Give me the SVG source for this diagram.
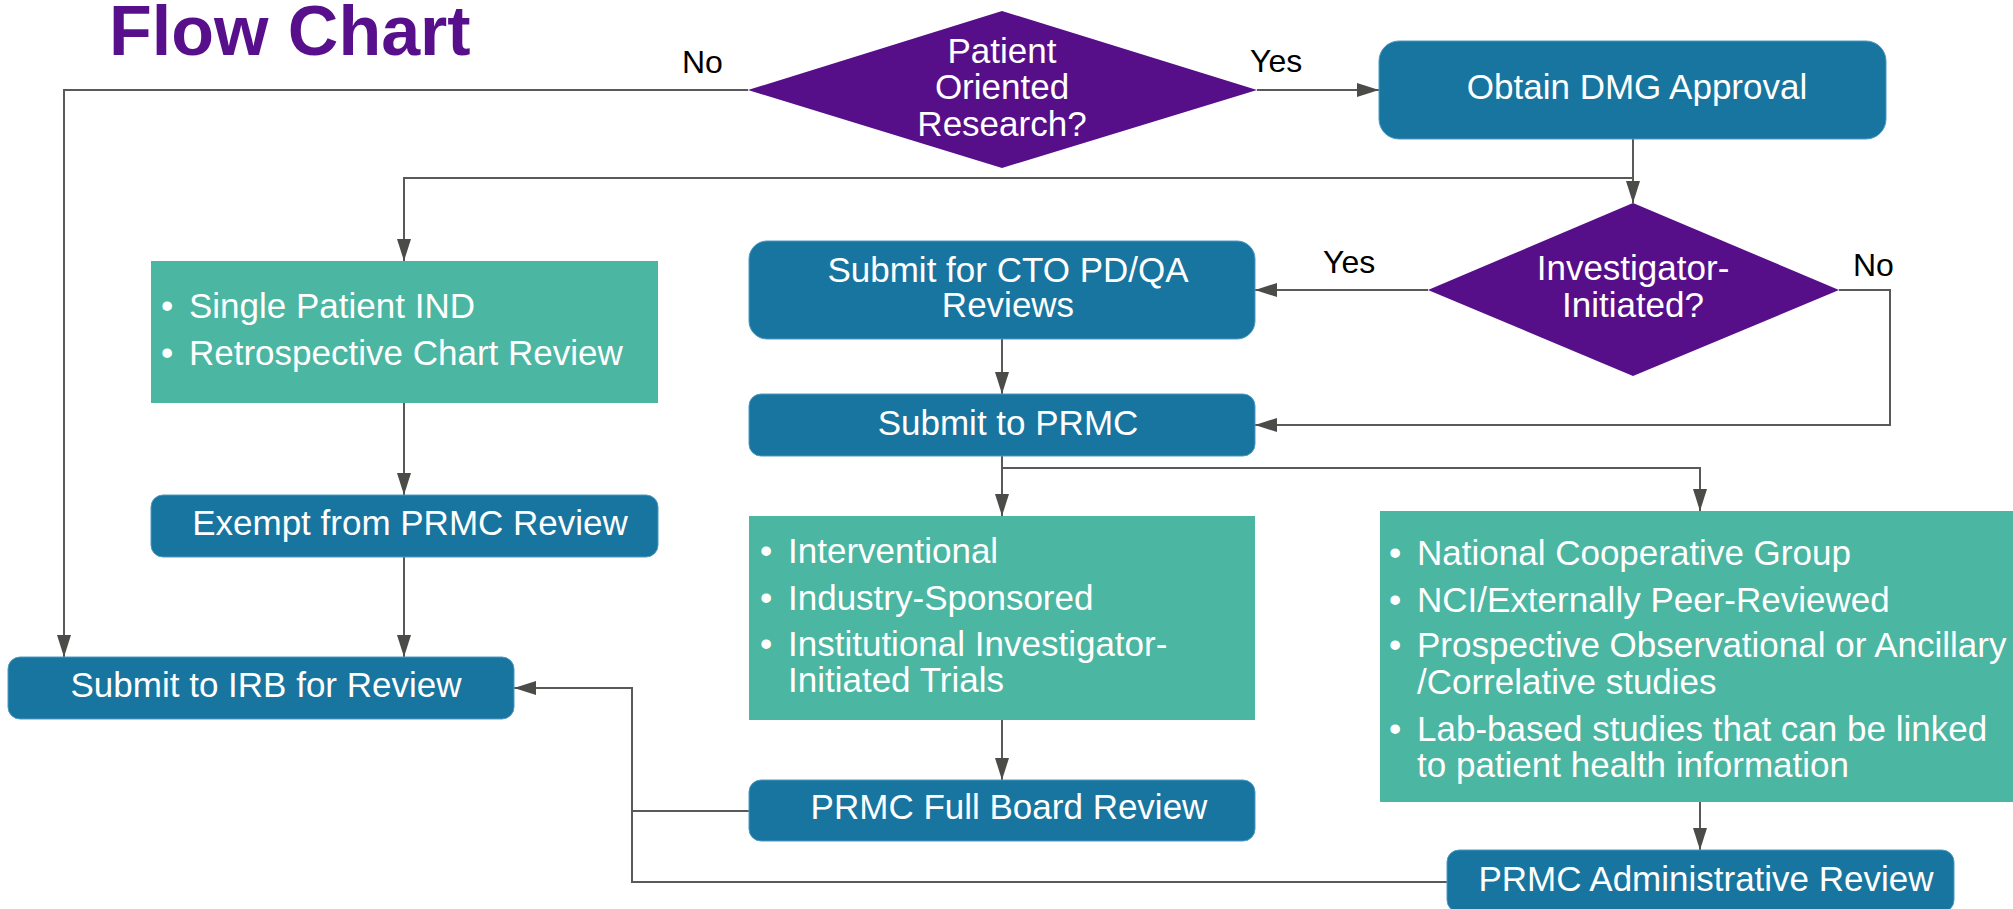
<svg xmlns="http://www.w3.org/2000/svg" width="2013" height="909" viewBox="0 0 2013 909">
<style>
text{font-family:"Liberation Sans",Arial,Helvetica,sans-serif;}
.title{font-size:70px;font-weight:bold;fill:#580F8B;}
.lbl{font-size:32px;fill:#000;}
.t{font-size:35px;fill:#fff;}
.c{text-anchor:middle;}
.blue{fill:#17759F;stroke:#4D9AC2;stroke-width:1;}
.green{fill:#4BB6A1;}
.dia{fill:#570F89;}
.ln{fill:none;stroke:#595959;stroke-width:2;}
</style>
<defs>
<marker id="arr" markerUnits="userSpaceOnUse" markerWidth="22" markerHeight="14" refX="22" refY="7" orient="auto">
<path d="M0,0 L22,7 L0,14 z" fill="#4B4B47"/>
</marker>
</defs>
<rect width="2013" height="909" fill="#fff"/>
<text class="title" x="109" y="55">Flow Chart</text>

<g id="connectors">
<path class="ln" d="M748,90 H64 V657" marker-end="url(#arr)"/>
<path class="ln" d="M1257,90 H1379" marker-end="url(#arr)"/>
<path class="ln" d="M1633,139 V203" marker-end="url(#arr)"/>
<path class="ln" d="M1633,178 H404 V261" marker-end="url(#arr)"/>
<path class="ln" d="M1428,290 H1255" marker-end="url(#arr)"/>
<path class="ln" d="M1839,290 H1890 V425 H1255" marker-end="url(#arr)"/>
<path class="ln" d="M1002,339 V394" marker-end="url(#arr)"/>
<path class="ln" d="M1002,456 V516" marker-end="url(#arr)"/>
<path class="ln" d="M1002,468 H1700 V511" marker-end="url(#arr)"/>
<path class="ln" d="M404,403 V495" marker-end="url(#arr)"/>
<path class="ln" d="M404,557 V657" marker-end="url(#arr)"/>
<path class="ln" d="M1002,720 V780" marker-end="url(#arr)"/>
<path class="ln" d="M1700,802 V850" marker-end="url(#arr)"/>
<path class="ln" d="M749,811 H632 V688 H514" marker-end="url(#arr)"/>
<path class="ln" d="M1447,882 H632 V811"/>
<text class="lbl" x="682" y="73">No</text>
<text class="lbl" x="1250" y="72">Yes</text>
<text class="lbl" x="1323" y="273">Yes</text>
<text class="lbl" x="1853" y="276">No</text>
</g>

<g id="patient-oriented">
<polygon class="dia" points="1002,11 1257,90 1002,168 748,90"/>
<text class="t c" x="1002" y="63">Patient</text>
<text class="t c" x="1002" y="99">Oriented</text>
<text class="t c" x="1002" y="136">Research?</text>
</g>

<g id="obtain-dmg">
<rect class="blue" x="1379" y="41" width="507" height="98" rx="20"/>
<text class="t c" x="1637" y="99">Obtain DMG Approval</text>
</g>

<g id="investigator-initiated">
<polygon class="dia" points="1633,203 1839,290 1633,376 1428,290"/>
<text class="t c" x="1633" y="280">Investigator-</text>
<text class="t c" x="1633" y="317">Initiated?</text>
</g>

<g id="cto-review">
<rect class="blue" x="749" y="241" width="506" height="98" rx="18"/>
<text class="t c" x="1008" y="282">Submit for CTO PD/QA</text>
<text class="t c" x="1008" y="317">Reviews</text>
</g>

<g id="submit-prmc">
<rect class="blue" x="749" y="394" width="506" height="62" rx="12"/>
<text class="t c" x="1008" y="435">Submit to PRMC</text>
</g>

<g id="exempt-list">
<rect class="green" x="151" y="261" width="507" height="142"/>
<text class="t" x="161" y="318">•</text>
<text class="t" x="189" y="318">Single Patient IND</text>
<text class="t" x="161" y="365">•</text>
<text class="t" x="189" y="365">Retrospective Chart Review</text>
</g>

<g id="exempt">
<rect class="blue" x="151" y="495" width="507" height="62" rx="12"/>
<text class="t c" x="410" y="535">Exempt from PRMC Review</text>
</g>

<g id="irb">
<rect class="blue" x="8" y="657" width="506" height="62" rx="12"/>
<text class="t c" x="266" y="697">Submit to IRB for Review</text>
</g>

<g id="full-board-list">
<rect class="green" x="749" y="516" width="506" height="204"/>
<text class="t" x="760" y="563">•</text>
<text class="t" x="788" y="563">Interventional</text>
<text class="t" x="760" y="610">•</text>
<text class="t" x="788" y="610">Industry-Sponsored</text>
<text class="t" x="760" y="656">•</text>
<text class="t" x="788" y="656">Institutional Investigator-</text>
<text class="t" x="788" y="692">Initiated Trials</text>
</g>

<g id="full-board">
<rect class="blue" x="749" y="780" width="506" height="61" rx="12"/>
<text class="t c" x="1009" y="819">PRMC Full Board Review</text>
</g>

<g id="admin-list">
<rect class="green" x="1380" y="511" width="640" height="291"/>
<text class="t" x="1389" y="565">•</text>
<text class="t" x="1417" y="565">National Cooperative Group</text>
<text class="t" x="1389" y="612">•</text>
<text class="t" x="1417" y="612">NCI/Externally Peer-Reviewed</text>
<text class="t" x="1389" y="657">•</text>
<text class="t" x="1417" y="657">Prospective Observational or Ancillary</text>
<text class="t" x="1417" y="694">/Correlative studies</text>
<text class="t" x="1389" y="741">•</text>
<text class="t" x="1417" y="741">Lab-based studies that can be linked</text>
<text class="t" x="1417" y="777">to patient health information</text>
</g>

<g id="admin">
<rect class="blue" x="1447" y="850" width="507" height="62" rx="12"/>
<text class="t c" x="1706" y="891">PRMC Administrative Review</text>
</g>
</svg>
